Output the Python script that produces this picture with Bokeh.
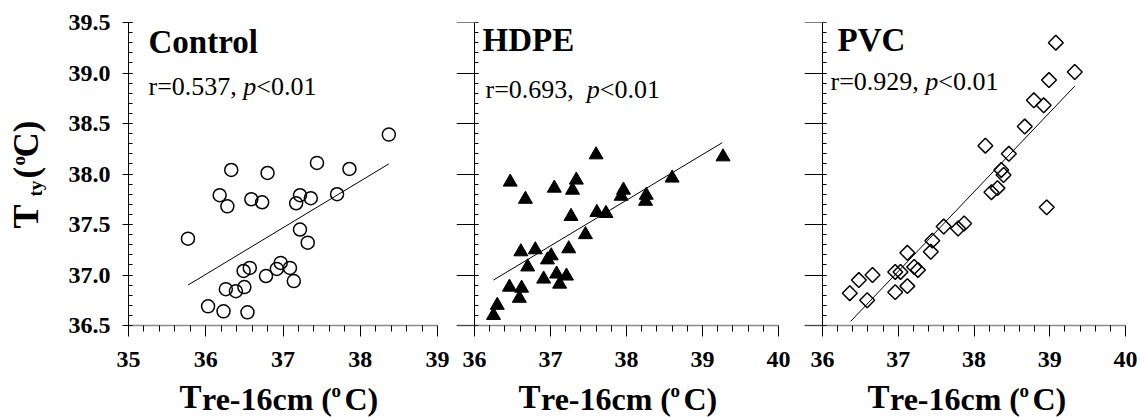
import math
from bokeh.plotting import figure
from bokeh.layouts import row, column
from bokeh.models import (Range1d, Label, SingleIntervalTicker, FixedTicker,
                          CustomJSTickFormatter, PrintfTickFormatter)
from bokeh.embed import file_html
from bokeh.resources import INLINE

# ---------------- data ----------------
ctrl_x = [35.77, 36.18, 36.33, 36.28, 36.59, 36.73, 36.80, 37.17, 37.22, 37.36,
          37.44, 37.70, 37.86, 37.22, 37.32, 36.03, 36.23, 36.54, 36.26, 36.39,
          36.50, 36.49, 36.57, 36.78, 36.92, 36.97, 37.09, 37.14, 38.37]
ctrl_y = [37.36, 37.79, 38.04, 37.68, 37.75, 37.72, 38.01, 37.71, 37.79, 37.76,
          38.11, 37.80, 38.05, 37.45, 37.32, 36.69, 36.64, 36.63, 36.86, 36.84,
          36.88, 37.04, 37.07, 36.99, 37.06, 37.12, 37.07, 36.94, 38.39]
ctrl_fit_x = [35.77, 38.37]
ctrl_fit_y = [36.90, 38.10]

hdpe_x = [37.60, 39.27, 36.47, 36.67, 37.05, 37.34, 37.29, 38.60, 37.96, 37.93,
          38.26, 38.25, 37.61, 37.73, 37.27, 37.46, 36.61, 36.80, 37.24, 37.01,
          36.96, 36.70, 36.91, 37.08, 37.21, 37.12, 36.46, 36.62, 36.59, 36.30, 36.25]
hdpe_y = [38.19, 38.17, 37.92, 37.75, 37.86, 37.94, 37.84, 37.96, 37.84, 37.78,
          37.79, 37.73, 37.62, 37.61, 37.58, 37.40, 37.23, 37.25, 37.26, 37.19,
          37.15, 37.08, 36.96, 37.01, 36.99, 36.91, 36.88, 36.87, 36.77, 36.70, 36.60]
hdpe_fit_x = [36.25, 39.26]
hdpe_fit_y = [36.95, 38.31]

pvc_x = [39.08, 39.33, 38.99, 38.79, 38.92, 38.67, 38.15, 38.46, 38.36, 38.39,
         38.23, 38.31, 38.96, 37.60, 37.79, 37.87, 37.45, 37.43, 37.12, 37.21,
         37.26, 36.96, 37.03, 36.66, 36.48, 36.36, 36.59, 36.96, 37.12]
pvc_y = [39.30, 39.01, 38.93, 38.73, 38.68, 38.47, 38.28, 38.20, 38.04, 37.99,
         37.82, 37.86, 37.67, 37.48, 37.46, 37.51, 37.34, 37.23, 37.22, 37.08,
         37.05, 37.03, 37.03, 37.00, 36.95, 36.82, 36.75, 36.83, 36.89]
pvc_fit_x = [36.37, 39.33]
pvc_fit_y = [36.54, 38.87]

titles = ["Control", "HDPE", "PVC"]
r_texts = ["r=0.537, ", "r=0.693,  ", "r=0.929, "]
x_starts = [35, 36, 36]
x_major = [[35, 36, 37, 38, 39], [36, 37, 38, 39, 40], [36, 37, 38, 39, 40]]
y_range_vals = (36.5, 39.5)

FONT = "Liberation Serif"
TOP_H = 378
STRIP_H = 417 - TOP_H
B_TOP = 22
FRAME_H = 303
B_BOT = TOP_H - B_TOP - FRAME_H   # 53


def lab(p, x, y, text, size, style="normal", angle=0.0, align="left"):
    p.add_layout(Label(x=x, y=y, x_units="screen", y_units="screen", text=text,
                       text_font=FONT, text_font_size=f"{size}px",
                       text_font_style=style, text_color="black",
                       text_align=align, text_baseline="middle", angle=angle))


def blank(w, h, bl=0, br=0, bt=0, bb=0):
    b = figure(width=w, height=h, x_range=Range1d(0, 1), y_range=Range1d(0, 1),
               x_axis_location=None, y_axis_location=None, output_backend="svg",
               toolbar_location=None, min_border_left=bl, min_border_right=br,
               min_border_top=bt, min_border_bottom=bb)
    b.grid.visible = False
    b.outline_line_color = None
    return b


def make_panel(i, w, bl, br, frame_w, ext, xs, ys, fx, fy, marker):
    x0 = x_starts[i]
    px_per_unit = (frame_w - ext) / 4.0
    p = figure(width=w, height=TOP_H,
               x_range=Range1d(x0 - ext / px_per_unit, x0 + 4),
               y_range=Range1d(*y_range_vals), output_backend="svg",
               toolbar_location=None, min_border_left=bl, min_border_right=br,
               min_border_top=B_TOP, min_border_bottom=B_BOT)
    p.grid.visible = False
    p.outline_line_color = None
    p.background_fill_color = "white"

    majors = x_major[i]
    minors = [round(m + k * 0.2, 1) for m in majors[:-1] for k in range(1, 5)]
    xa = p.xaxis[0]
    xa.ticker = FixedTicker(ticks=majors, minor_ticks=minors)
    xa.formatter = PrintfTickFormatter(format="%d")
    xa.axis_line_color = "#8a8a8a"
    xa.axis_line_width = 1.5
    xa.major_tick_line_color = "black"
    xa.minor_tick_line_color = "black"
    xa.major_tick_out = 11
    xa.major_tick_in = 0
    xa.minor_tick_out = 6
    xa.minor_tick_in = 0
    xa.major_label_text_font = FONT
    xa.major_label_text_font_style = "bold"
    xa.major_label_text_font_size = "24px"
    xa.major_label_text_color = "black"
    xa.major_label_standoff = 15

    ya = p.yaxis[0]
    ya.ticker = SingleIntervalTicker(interval=0.5, num_minor_ticks=5)
    ya.axis_line_color = "black"
    ya.major_tick_line_color = "black"
    ya.minor_tick_line_color = "black"
    ya.major_tick_in = 4
    ya.minor_tick_in = 4
    ya.minor_tick_out = 0
    if i == 0:
        ya.formatter = PrintfTickFormatter(format="%.1f")
        ya.major_tick_out = 6
        ya.major_label_text_font = FONT
        ya.major_label_text_font_style = "bold"
        ya.major_label_text_font_size = "24px"
        ya.major_label_text_color = "black"
        ya.major_label_standoff = 12
    else:
        ya.fixed_location = x0
        ya.formatter = CustomJSTickFormatter(code="return ''")
        ya.major_tick_out = 18
        ya.major_label_standoff = 0
        ya.major_label_text_font_size = "10px"

    if marker == "circle":
        p.scatter(xs, ys, marker="circle", size=13, fill_color=None,
                  line_color="black", line_width=1.5)
    elif marker == "triangle":
        p.scatter(xs, ys, marker="triangle", size=14, fill_color="black",
                  line_color="black", line_width=1)
    else:
        p.scatter(xs, ys, marker="square", size=10.5, angle=math.pi / 4,
                  fill_color=None, line_color="black", line_width=1.5)
    p.line(fx, fy, line_color="black", line_width=1)
    return p


# panel 1: frame 128..437 ; panel 2: frame 456..778 (axis at 474) ; panel 3: frame 804..1125 (axis at 822)
p1 = make_panel(0, 394, 72, 13, 309, 0, ctrl_x, ctrl_y, ctrl_fit_x, ctrl_fit_y, "circle")
p2 = make_panel(1, 345, 6, 17, 322, 18, hdpe_x, hdpe_y, hdpe_fit_x, hdpe_fit_y, "triangle")
p3 = make_panel(2, 349, 9, 19, 321, 18, pvc_x, pvc_y, pvc_fit_x, pvc_fit_y, "square")

# text positions: centres of cap height, frame-relative (y from frame bottom)
title_pos = [(20, 284), (26, 286), (33, 286)]
r_pos = [(20, 239.5), (29, 236.5), (26, 244.5)]

for i, p in enumerate([p1, p2, p3]):
    tx, ty = title_pos[i]
    lab(p, tx, ty, titles[i], 33, "bold")
    rx, ry = r_pos[i]
    lab(p, rx, ry, r_texts[i], 26)
    n_sp = len(r_texts[i]) - len(r_texts[i].rstrip())
    px_ = rx + 3.397 * 26 + 0.25 * 26 * n_sp
    lab(p, px_, ry, "p", 26, "italic")
    lab(p, px_ + 13, ry, "<0.01", 26)

# x-axis label strips (same left/right borders as the panel above)
strip_specs = [(450, 0, 13, 179), (345, 6, 17, 62), (349, 9, 19, 63)]
strips = []
for w, bl, br, x in strip_specs:
    s = blank(w, STRIP_H, bl=bl, br=br)
    lab(s, x, 20.5, "T", 33, "bold")
    lab(s, x + 22.5, 18.5, "re-16cm (", 32, "bold")
    lab(s, x + 152, 27, "o", 19, "bold")
    lab(s, x + 165, 18.5, "C)", 32, "bold")
    strips.append(s)

# y-axis label strip (rotated), borders matched to panel 1
yl = blank(56, TOP_H, bt=B_TOP, bb=B_BOT)
a = math.pi / 2
lab(yl, 25, 97, "T", 36, "bold", angle=a)
lab(yl, 35, 129, "ty", 19, "bold", angle=a)
lab(yl, 26, 147, "(", 35, "bold", angle=a)
lab(yl, 17.5, 160, "o", 19, "bold", angle=a)
lab(yl, 26, 168, "C)", 35, "bold", angle=a)

layout = row(
    column(row(yl, p1), strips[0]),
    column(p2, strips[1]),
    column(p3, strips[2]),
)
open("out.html", "w").write(file_html(layout, INLINE))
